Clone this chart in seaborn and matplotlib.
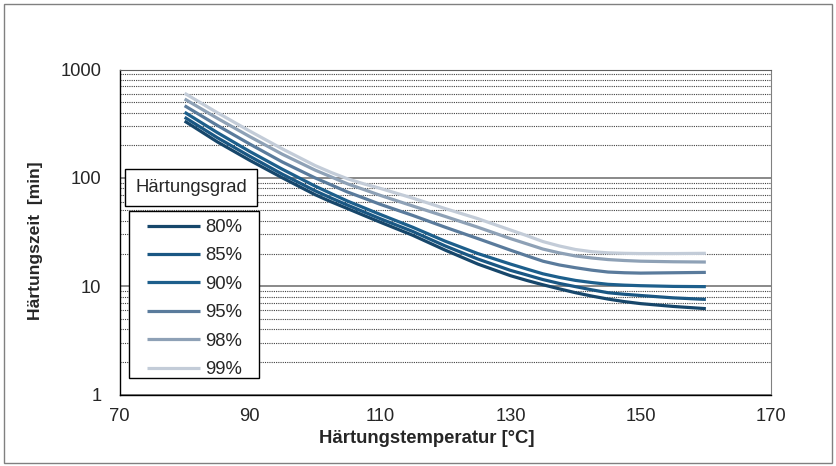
import numpy as np
import pandas as pd
import seaborn as sns
import matplotlib.pyplot as plt
from matplotlib.ticker import FixedLocator, LogLocator, NullFormatter
from matplotlib.patches import Rectangle

# Härtungstemperatur [°C]
temps = [80, 85, 90, 95, 100, 102.5, 105, 107.5, 110, 115, 120, 125, 130,
         132.5, 135, 137.5, 140, 142.5, 145, 147.5, 150, 155, 160]

# Härtungszeit [min] per Härtungsgrad
zeit_80 = [334, 215, 145, 100, 70, 60, 52, 45, 39, 29.5, 21.5, 16, 12.5,
           11.3, 10.3, 9.45, 8.7, 8.1, 7.6, 7.2, 6.9, 6.5, 6.2]
zeit_85 = [362, 235, 158, 108, 76, 65, 56, 48.5, 42, 32, 23.5, 17.8, 14,
           12.7, 11.5, 10.6, 9.9, 9.25, 8.7, 8.42, 8.2, 7.8, 7.55]
zeit_90 = [403, 262, 175, 120, 84, 71.5, 61, 53, 46, 35, 26, 20, 16,
           14.4, 13, 12.05, 11.3, 10.8, 10.4, 10.22, 10.1, 9.95, 9.9]
zeit_95 = [463, 305, 205, 140, 100, 86, 74, 65, 57, 45, 35, 27.5, 21.5,
           19.1, 17, 15.7, 14.8, 14.05, 13.5, 13.3, 13.2, 13.3, 13.4]
zeit_98 = [534, 355, 240, 165, 118, 102, 88, 78, 69, 55, 44, 35, 27.5,
           24.6, 22, 20.3, 19, 18.2, 17.6, 17.25, 17, 16.8, 16.7]
zeit_99 = [603, 400, 270, 185, 130, 112, 98, 88, 80, 65, 52, 42, 33,
           29.3, 25.8, 23.5, 21.8, 20.8, 20.3, 20.1, 20, 20, 20.1]

grade = ['80%', '85%', '90%', '95%', '98%', '99%']
colors = ['#17476b', '#1a5783', '#1d5f8c', '#5a7b9c', '#8ea1b6', '#c3ccd8']

x_ticks = [70, 90, 110, 130, 150, 170]
y_ticks = [1, 10, 100, 1000]
y_ticklabels = ['1', '10', '100', '1000']

series = [zeit_80, zeit_85, zeit_90, zeit_95, zeit_98, zeit_99]
df = pd.concat(
    [pd.DataFrame({'temp': temps, 'zeit': z, 'grad': g}) for g, z in zip(grade, series)],
    ignore_index=True,
)

sns.set_style('white')
plt.rcParams['font.family'] = ['Liberation Sans', 'DejaVu Sans']

W, H = 836, 466
fig = plt.figure(figsize=(W / 100, H / 100), dpi=100)
ax = fig.add_axes([119.5 / W, 1 - 394.5 / H, (771 - 119.5) / W, (394.5 - 69.5) / H])

sns.lineplot(data=df, x='temp', y='zeit', hue='grad', hue_order=grade,
             palette=colors, linewidth=2.3, ax=ax, legend=True)
for line in ax.lines:
    line.set_solid_joinstyle('round')
    line.set_solid_capstyle('butt')

ax.set_yscale('log')
ax.set_xlim(70, 170)
ax.set_ylim(1, 1000)
ax.xaxis.set_major_locator(FixedLocator(x_ticks))
ax.yaxis.set_major_locator(FixedLocator(y_ticks))
ax.set_yticklabels(y_ticklabels)
ax.yaxis.set_minor_locator(LogLocator(base=10, subs=np.arange(2, 10)))
ax.yaxis.set_minor_formatter(NullFormatter())

ax.set_axisbelow(True)
ax.grid(which='major', axis='y', color='#808080', linewidth=1.3, linestyle='-')
ax.grid(which='minor', axis='y', color='#404040', linewidth=0.8, linestyle=(0, (1, 1)))
ax.grid(which='both', axis='x', visible=False)

for side in ['left', 'bottom']:
    ax.spines[side].set_color('black')
    ax.spines[side].set_linewidth(1)
ax.spines['top'].set_color('#606060')
ax.spines['right'].set_color('#808080')

ax.tick_params(axis='x', which='major', direction='inout', length=9, width=1,
               color='black', labelsize=13.2, pad=5)
ax.tick_params(axis='y', which='major', direction='out', length=5, width=1,
               color='black', labelsize=13.2, pad=8)
ax.tick_params(axis='y', which='minor', length=0)

ax.set_xlabel('Härtungstemperatur [°C]', fontsize=13.3, fontweight='bold')
ax.set_ylabel('Härtungszeit  [min]', fontsize=12.6, fontweight='bold')
ax.xaxis.set_label_coords(0.4715, -0.109)
ax.yaxis.set_label_coords(-0.1174, 0.472)

# legend: frameless entries inside a drawn box, title in its own box
handles, labels = ax.get_legend_handles_labels()
ax.get_legend().remove()
fig.add_artist(Rectangle((129 / W, 1 - 378.3 / H), 130.3 / W, 167.3 / H,
                         transform=fig.transFigure, facecolor='white',
                         edgecolor='black', linewidth=1, zorder=5))
leg = fig.legend(handles, labels, loc='upper left',
                 bbox_to_anchor=(147.3 / W, 1 - 219 / H),
                 frameon=False, fontsize=13.3, borderpad=0, borderaxespad=0,
                 handlelength=2.85, handletextpad=0.27, labelspacing=0.62)
leg.set_zorder(6)
for line in leg.get_lines():
    line.set_linewidth(2.3)

fig.add_artist(Rectangle((124.7 / W, 1 - 205.7 / H), 132.6 / W, 36.4 / H,
                         transform=fig.transFigure, facecolor='white',
                         edgecolor='black', linewidth=1, zorder=5))
fig.text(191 / W, 1 - 187.5 / H, 'Härtungsgrad', ha='center', va='center',
         fontsize=13.3, zorder=6)

# outer chart border
fig.add_artist(Rectangle((4 / W, 1 - 463 / H), 828 / W, 459 / H,
                         transform=fig.transFigure, facecolor='none',
                         edgecolor='#808080', linewidth=1))

fig.savefig('out.png', dpi=100)
